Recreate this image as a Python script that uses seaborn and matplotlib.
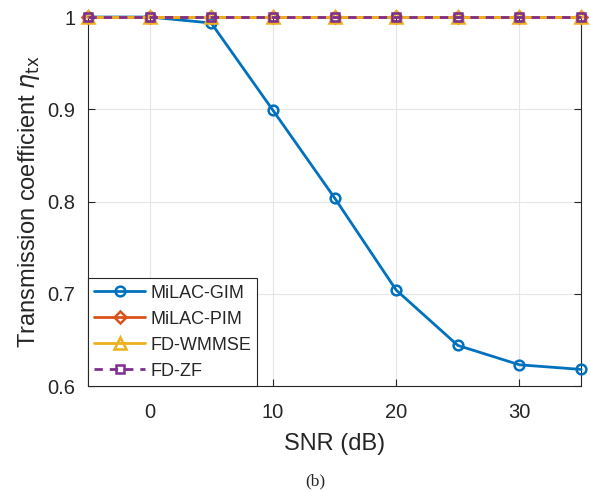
"""Transmission coefficient vs SNR for MiLAC and fully-digital precoders."""

import matplotlib.pyplot as plt
import pandas as pd
import seaborn as sns
from matplotlib.ticker import FormatStrFormatter

snr_db = [-5, 0, 5, 10, 15, 20, 25, 30, 35]
milac_gim = [1.0, 1.0, 0.9935, 0.899, 0.804, 0.704, 0.644, 0.623, 0.618]
milac_pim = [1.0, 1.0, 1.0, 1.0, 1.0, 1.0, 1.0, 1.0, 1.0]
fd_wmmse = [1.0, 1.0, 1.0, 1.0, 1.0, 1.0, 1.0, 1.0, 1.0]
fd_zf = [1.0, 1.0, 1.0, 1.0, 1.0, 1.0, 1.0, 1.0, 1.0]

series_names = ["MiLAC-GIM", "MiLAC-PIM", "FD-WMMSE", "FD-ZF"]
series_values = [milac_gim, milac_pim, fd_wmmse, fd_zf]
colors = ["#0072BD", "#D95319", "#EDB120", "#7E2F8E"]
markers = ["o", "D", "^", "s"]
marker_sizes = [7, 6, 8, 6]
line_styles = ["-", "-", "-", (0, (3, 2.5))]

sns.set_theme(style="white")
plt.rcParams["font.family"] = ["Liberation Sans", "DejaVu Sans"]
plt.rcParams["mathtext.fontset"] = "dejavusans"

fig = plt.figure(figsize=(5.9, 4.92), dpi=100)
ax = fig.add_axes([0.149, 0.2154, 0.836, 0.75])

for name, values, color, marker, msize, ls in zip(
    series_names, series_values, colors, markers, marker_sizes, line_styles
):
    df = pd.DataFrame({"snr": snr_db, "eta": values})
    sns.lineplot(
        data=df, x="snr", y="eta", ax=ax, color=color, marker=marker,
        markersize=msize, markerfacecolor="none", markeredgecolor=color,
        markeredgewidth=1.8, linewidth=2.0, linestyle=ls, label=name,
        clip_on=False, zorder=3,
    )

ax.set_xlim(-5, 35)
ax.set_ylim(0.6, 1.0)
ax.set_xticks([0, 10, 20, 30])
ax.set_yticks([0.6, 0.7, 0.8, 0.9, 1.0])
ax.yaxis.set_major_formatter(FormatStrFormatter("%g"))
ax.grid(True, color="#e6e6e6", linewidth=0.8)
ax.tick_params(direction="in", length=5, width=0.8, colors="#262626",
               labelsize=14.5, top=True, right=True, bottom=True, left=True,
               labelcolor="#262626")
ax.tick_params(axis="x", pad=12)
ax.tick_params(axis="y", pad=9)
for spine in ax.spines.values():
    spine.set_color("#262626")
    spine.set_linewidth(0.8)

ax.set_xlabel("SNR (dB)", fontsize=17, color="#262626", labelpad=8)
ax.set_ylabel(r"Transmission coefficient $\eta_{\rm tx}$", fontsize=17,
              color="#262626", labelpad=4)

leg = ax.legend(loc="lower left", fontsize=13, frameon=True, fancybox=False,
                edgecolor="#262626", handlelength=2.8, borderpad=0.35,
                labelspacing=0.5, handletextpad=0.3, borderaxespad=0.0)
leg.get_frame().set_linewidth(0.8)
leg.get_frame().set_alpha(1.0)

fig.text(0.534, 0.006, "(b)", fontsize=12.5, family="Liberation Serif",
         ha="center", va="bottom")

fig.savefig("out.png", dpi=100)
plt.close(fig)
